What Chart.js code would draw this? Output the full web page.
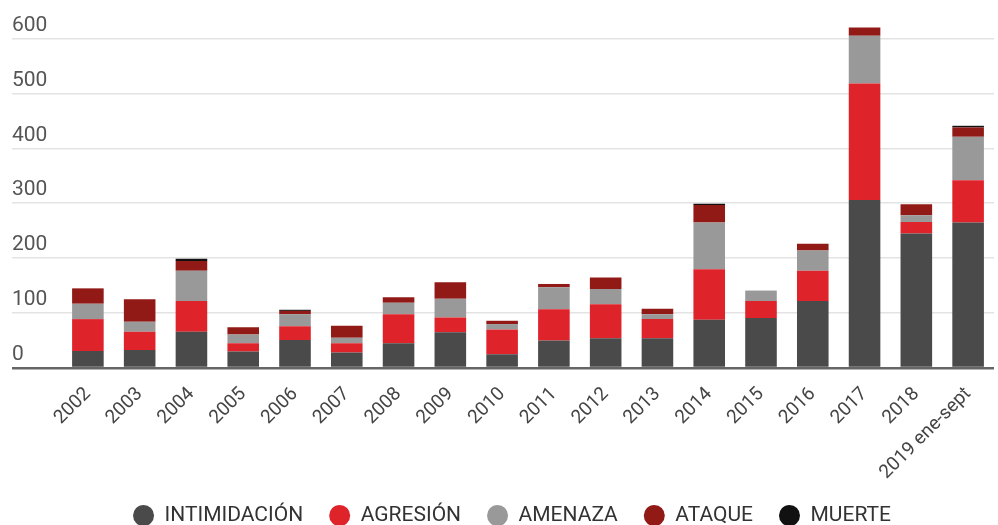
<!DOCTYPE html>
<html lang="es">
  <head>
    <meta charset="UTF-8" />
    <title>Agresiones por año</title>
    <script src="https://cdn.jsdelivr.net/npm/chart.js"></script>
    <style>
      html, body { margin: 0; padding: 0; background: #fff; }
      #wrap { width: 998px; height: 525px; position: relative; }
    </style>
  </head>
  <body>
    <div id="wrap"><canvas id="chart"></canvas></div>

    <script>
      // categorías y series
      const years = ["2002", "2003", "2004", "2005", "2006", "2007", "2008", "2009", "2010",
        "2011", "2012", "2013", "2014", "2015", "2016", "2017", "2018", "2019 ene-sept"];
      const intimidacion = [31, 33, 66, 30, 51, 28, 45, 65, 25, 50, 54, 54, 88, 91, 122, 306, 245, 265];
      const agresion = [58, 33, 56, 15, 25, 17, 53, 27, 45, 57, 62, 35, 92, 31, 55, 212, 21, 77];
      const amenaza = [28, 18, 55, 16, 22, 10, 21, 34, 10, 40, 28, 9, 85, 19, 37, 87, 12, 79];
      const ataque = [28, 41, 18, 13, 6, 22, 10, 30, 6, 6, 21, 10, 32, 0, 12, 15, 20, 17];
      const muerte = [0, 0, 4, 0, 2, 0, 0, 0, 0, 0, 0, 0, 2, 0, 0, 0, 0, 3];
      const yTicks = [0, 100, 200, 300, 400, 500, 600];

      const font = "Roboto";

      function serie(label, data, color) {
        return {
          label: label,
          data: data,
          backgroundColor: color,
          borderWidth: 0,
          barPercentage: 0.61,
          categoryPercentage: 1,
        };
      }

      // sin relleno automático de las escalas
      function noPad(s) {
        s.paddingTop = 0;
        s.paddingBottom = 0;
        s.paddingLeft = 0;
        s.paddingRight = 0;
      }

      // la leyenda va un poco más a la derecha
      const legendShift = {
        id: "legendShift",
        afterLayout(chart) {
          chart.legend.left += 9;
          chart.legend.right += 9;
        },
      };

      const ctx = document.getElementById("chart").getContext("2d");
      new Chart(ctx, {
        type: "bar",
        data: {
          labels: years,
          datasets: [
            serie("INTIMIDACIÓN", intimidacion, "#4a4a4a"),
            serie("AGRESIÓN", agresion, "#df232b"),
            serie("AMENAZA", amenaza, "#999999"),
            serie("ATAQUE", ataque, "#921a16"),
            serie("MUERTE", muerte, "#111111"),
          ],
        },
        plugins: [legendShift],
        options: {
          responsive: true,
          maintainAspectRatio: false,
          animation: false,
          layout: { padding: { left: 12, right: 4, top: 11, bottom: -11 } },
          plugins: {
            tooltip: { enabled: false },
            legend: {
              position: "bottom",
              labels: {
                usePointStyle: true,
                pointStyle: "circle",
                boxWidth: 21,
                boxHeight: 15,
                pointStyleWidth: 21,
                padding: 26,
                color: "#333",
                font: { family: font, size: 21 },
              },
            },
          },
          scales: {
            x: {
              stacked: true,
              afterFit: (s) => { s.height = 111; noPad(s); },
              grid: { display: false, drawTicks: false },
              border: { display: false },
              ticks: {
                minRotation: 45,
                maxRotation: 45,
                padding: 15,
                color: "#444",
                font: { family: font, size: 19 },
              },
            },
            y: {
              stacked: true,
              min: 0,
              max: 650,
              afterFit: (s) => { s.width = 50; noPad(s); },
              afterBuildTicks: (s) => { s.ticks = yTicks.map((v) => ({ value: v })); },
              border: { display: false },
              grid: {
                color: (c) => (c.tick && c.tick.value === 0 ? "#666" : "#e3e3e3"),
                lineWidth: (c) => (c.tick && c.tick.value === 0 ? 2.5 : 1.5),
                tickLength: 50,
                drawTicks: true,
              },
              ticks: {
                crossAlign: "far",
                labelOffset: -13,
                color: "#555",
                font: { family: font, size: 21 },
              },
            },
          },
        },
      });
    </script>
  </body>
</html>
